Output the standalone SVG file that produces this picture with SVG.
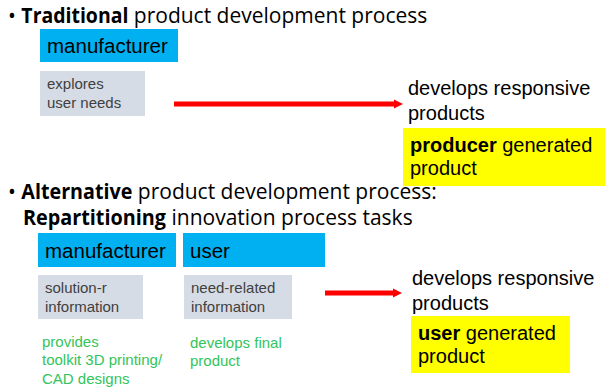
<svg xmlns="http://www.w3.org/2000/svg" width="605" height="388" viewBox="0 0 605 388">
  <style>
    .head { font-family: "Open Sans", "Liberation Sans", sans-serif; font-size: 21px; fill: #000; }
    .head .b { font-weight: bold; }
    .role { fill: #00b0f0; }
    .roletxt { font-family: "Liberation Sans", Arial, sans-serif; font-size: 20.5px; fill: #000; }
    .task { fill: #d6dce5; }
    .tasktxt { font-family: "Liberation Sans", Arial, sans-serif; font-size: 15px; fill: #404040; }
    .outcome { font-family: "Liberation Sans", Arial, sans-serif; font-size: 20px; fill: #000; }
    .outcome .b { font-weight: bold; }
    .result { fill: #ffff00; }
    .note { font-family: "Liberation Sans", Arial, sans-serif; font-size: 15px; fill: #33c45a; }
    .flow { stroke: #ff0000; stroke-width: 5; fill: none; marker-end: url(#arrow); }
  </style>
  <defs>
    <marker id="arrow" viewBox="0 0 10 10" refX="0" refY="5" markerWidth="1.8" markerHeight="2.6" orient="auto" markerUnits="strokeWidth">
      <path d="M0,0 L10,5 L0,10 Z" fill="#ff0000"/>
    </marker>
  </defs>
  <rect width="605" height="388" fill="#ffffff"/>

  <!-- Section 1: traditional process -->
  <g id="heading-traditional">
    <text class="head" x="8" y="23">• <tspan class="b" textLength="107" lengthAdjust="spacingAndGlyphs">Traditional</tspan> product development process</text>
  </g>
  <g id="manufacturer-1">
    <rect class="role" x="40" y="29" width="138" height="33"/>
    <text class="roletxt" x="47" y="53">manufacturer</text>
  </g>
  <g id="explores-needs">
    <rect class="task" x="40" y="71" width="105" height="45"/>
    <text class="tasktxt" x="47" y="89">explores</text>
    <text class="tasktxt" x="47" y="108">user needs</text>
  </g>
  <g id="outcome-1">
    <text class="outcome" x="408" y="95">develops responsive</text>
    <text class="outcome" x="408" y="120">products</text>
  </g>
  <g id="producer-product">
    <rect class="result" x="403" y="128" width="202" height="58"/>
    <text class="outcome" x="410" y="152"><tspan class="b">producer</tspan> generated</text>
    <text class="outcome" x="410" y="175">product</text>
  </g>

  <!-- Section 2: repartitioned process -->
  <g id="heading-alternative">
    <text class="head" x="8" y="199">• <tspan class="b" textLength="111" lengthAdjust="spacingAndGlyphs">Alternative</tspan> product development process:</text>
    <text class="head" x="23" y="225"><tspan class="b" textLength="143" lengthAdjust="spacingAndGlyphs">Repartitioning</tspan> innovation process tasks</text>
  </g>
  <g id="manufacturer-2">
    <rect class="role" x="38" y="233" width="138" height="34"/>
    <text class="roletxt" x="45" y="258">manufacturer</text>
  </g>
  <g id="user">
    <rect class="role" x="183" y="233" width="142" height="34"/>
    <text class="roletxt" x="190" y="258">user</text>
  </g>
  <g id="solution-info">
    <rect class="task" x="38" y="275" width="105" height="44"/>
    <text class="tasktxt" x="45" y="293">solution-r</text>
    <text class="tasktxt" x="45" y="312">information</text>
  </g>
  <g id="need-info">
    <rect class="task" x="184" y="275" width="108" height="44"/>
    <text class="tasktxt" x="191" y="293">need-related</text>
    <text class="tasktxt" x="191" y="312">information</text>
  </g>
  <g id="manufacturer-role-note">
    <text class="note" x="42" y="347">provides</text>
    <text class="note" x="42" y="365">toolkit 3D printing/</text>
    <text class="note" x="42" y="384">CAD designs</text>
  </g>
  <g id="user-role-note">
    <text class="note" x="190" y="348">develops final</text>
    <text class="note" x="190" y="366">product</text>
  </g>
  <g id="outcome-2">
    <text class="outcome" x="412" y="285">develops responsive</text>
    <text class="outcome" x="412" y="310">products</text>
  </g>
  <g id="user-product">
    <rect class="result" x="411" y="316" width="159" height="57"/>
    <text class="outcome" x="418" y="340"><tspan class="b">user</tspan> generated</text>
    <text class="outcome" x="418" y="363">product</text>
  </g>

  <!-- Connectors -->
  <g id="connectors">
    <path class="flow" d="M174,104 H394"/>
    <path class="flow" d="M325,293 H393"/>
  </g>
</svg>
